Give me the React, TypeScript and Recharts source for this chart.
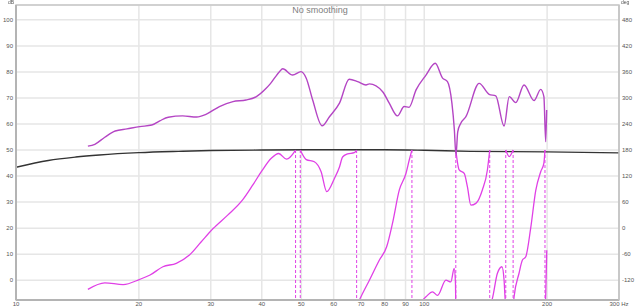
import { LineChart, Line, XAxis, YAxis, CartesianGrid, ReferenceArea } from "recharts"

// axis ticks
const freqTicks = [10, 20, 30, 40, 50, 60, 70, 80, 90, 100, 200, 300]
const dbTicks = [0, 10, 20, 30, 40, 50, 60, 70, 80, 90, 100]
const degTicks = [-120, -60, 0, 60, 120, 180, 240, 300, 360, 420, 480]

// black trace (dB)
const targetCurve: [number, number][] = [
  [10, 43.4], [12, 46.0], [14, 47.3], [16, 48.1], [20, 49.0], [25, 49.5], [30, 49.8],
  [40, 50.0], [60, 50.1], [80, 50.1], [100, 49.9], [130, 49.5], [200, 49.3], [300, 48.9],
]

// SPL trace (dB)
const splCurve: [number, number][] = [
  [15.0, 51.5], [15.6, 52.2], [16.5, 54.9], [17.5, 57.3], [18.7, 58.1], [20.1, 59.0],
  [21.5, 59.6], [22.5, 61.2], [23.6, 62.6], [25.6, 63.1], [27.7, 62.7], [29.2, 63.7],
  [31.5, 66.7], [34.0, 68.6], [36.6, 69.2], [38.8, 70.5], [41.0, 73.7], [42.0, 75.5],
  [44.2, 80.1], [45.0, 81.2], [47.6, 78.8], [49.9, 80.1], [51.4, 77.6], [53.3, 69.2],
  [56.2, 59.3], [58.6, 62.8], [62.0, 68.0], [65.5, 77.2], [68.7, 76.3], [72.0, 75.0],
  [73.4, 75.4], [79.1, 72.4], [82.1, 68.0], [86.0, 63.1], [89.3, 66.7], [91.8, 66.4],
  [95.5, 73.1], [101, 78.8], [106.4, 83.3], [110.9, 77.6], [114, 76.3], [116.9, 68],
  [118.5, 58], [119.6, 48], [120.8, 57], [122.9, 60.3], [126.5, 62.8], [136.3, 75.6],
  [144.2, 71.4], [149.7, 70.8], [156.9, 59.2], [161.5, 70.5], [167.6, 68.2], [175.6, 75.0],
  [185.8, 69.0], [192.9, 73.3], [196.4, 70.5], [198.4, 53.2], [199.5, 65.4],
]

// phase trace (deg), one list per unwrapped piece
const phaseSeg1: [number, number][] = [
  [15.0, -141], [16.5, -126], [18.3, -130], [20.1, -118], [21.3, -108], [22.9, -89],
  [24.7, -81], [26.6, -62], [28.4, -32], [30.4, -1], [33.0, 30], [35.9, 65], [38.0, 99],
  [39.9, 130], [42.2, 161], [44.0, 172], [46.0, 159], [48.4, 180],
]
const phaseSeg2: [number, number][] = [
  [49.7, 180], [51.4, 158], [53.8, 153], [55.9, 130], [57.7, 84], [60.3, 115], [62.0, 141],
  [63.1, 164], [64.9, 171], [67.4, 174], [68.3, 180],
]
const phaseSeg3: [number, number][] = [
  [68.3, -180], [70.0, -158], [73.4, -120], [77.6, -74], [80.9, -43], [83.6, 11],
  [86.9, 88], [90.2, 126], [91.9, 157], [93.3, 180],
]
const phaseSeg4: [number, number][] = [
  [93.3, -180], [98, -170], [101, -158], [104.8, -147], [107.8, -155], [113, -120],
  [116.2, -124], [118.4, -93], [119.3, -130], [119.5, -185],
]
const phaseSeg5: [number, number][] = [
  [119.5, 180], [121.8, 134], [125.3, 126], [127.6, 95], [130.1, 53], [133.8, 57],
  [138.8, 88], [142.8, 134], [144.7, 180],
]
const phaseSeg6: [number, number][] = [
  [144.7, -180], [146.9, -162], [151.1, -104], [155, -89], [156.9, -120], [157.7, -158], [158.4, -180],
]
const phaseSeg7: [number, number][] = [
  [158.4, 180], [161.5, 165], [165.1, 180],
]
const phaseSeg8: [number, number][] = [
  [165.1, -180], [166, -158], [170.7, -104], [173.9, -74], [177.3, -66], [182.3, 0],
  [187.6, 87], [192.9, 130], [196.4, 150], [197.6, 180],
]
const phaseSeg9: [number, number][] = [
  [197.6, -180], [198.5, -150], [199.6, -51],
]

// frequencies where the phase wraps
const wrapFreqs = [48.4, 49.7, 68.3, 93.3, 119.5, 144.7, 158.4, 165.1, 197.6]

const phaseSegments = [phaseSeg1, phaseSeg2, phaseSeg3, phaseSeg4, phaseSeg5, phaseSeg6, phaseSeg7, phaseSeg8, phaseSeg9]

const targetData = targetCurve.map(([f, v]) => ({ f, v }))
const splData = splCurve.map(([f, v]) => ({ f, v }))
const phaseData = phaseSegments.flatMap((seg) => [
  ...seg.map(([f, p]) => ({ f, p })),
  { f: seg[seg.length - 1][0], p: null },
])
const wrapData = wrapFreqs.flatMap((f) => [
  { f, w: 180 },
  { f, w: -180 },
  { f, w: null },
])

const DB_DOMAIN: [number, number] = [-7.6, 105.7]
const DEG_DOMAIN: [number, number] = [-165.6, 514.2]

const tickStyle = { fontSize: 6, fill: "#555", fontFamily: "Liberation Sans, Arial, sans-serif" }

export default function App() {
  return (
    <div style={{ position: "fixed", left: 0, top: 0, width: 640, height: 308, background: "#fff", fontFamily: "Liberation Sans, Arial, sans-serif" }}>
      <LineChart width={640} height={308} margin={{ top: 5, right: 0, bottom: 0, left: 0 }}>
        <CartesianGrid xAxisId="x" yAxisId="left" stroke="#e6e6e6" strokeWidth={1.5} />
        <XAxis
          xAxisId="x"
          dataKey="f"
          type="number"
          scale="log"
          domain={[10, 300]}
          allowDataOverflow
          ticks={freqTicks}
          interval={0}
          height={8}
          tickSize={0}
          tickMargin={2}
          tickLine={false}
          axisLine={{ stroke: "#b4b4b4", strokeWidth: 2 }}
          tick={tickStyle}
          tickFormatter={(v: number) => (v === 300 ? "300 Hz" : String(v))}
        />
        <YAxis
          yAxisId="left"
          type="number"
          domain={DB_DOMAIN}
          allowDataOverflow
          ticks={dbTicks}
          interval={0}
          width={16}
          tickSize={0}
          tickMargin={3}
          tickLine={false}
          axisLine={{ stroke: "#b4b4b4", strokeWidth: 2 }}
          tick={tickStyle}
        />
        <YAxis
          yAxisId="right"
          orientation="right"
          type="number"
          domain={DEG_DOMAIN}
          allowDataOverflow
          ticks={degTicks}
          interval={0}
          width={21}
          tickSize={0}
          tickMargin={3}
          tickLine={false}
          axisLine={{ stroke: "#c4c4c4", strokeWidth: 1.5 }}
          tick={tickStyle}
        />
        <ReferenceArea
          xAxisId="x"
          yAxisId="left"
          x1={10}
          x2={300}
          y1={DB_DOMAIN[0]}
          y2={DB_DOMAIN[1]}
          fill="none"
          stroke="#c8c8c8"
          strokeWidth={1.5}
        />
        <Line
          xAxisId="x"
          yAxisId="left"
          data={targetData}
          dataKey="v"
          type="monotone"
          stroke="#333"
          strokeWidth={1.4}
          dot={false}
          activeDot={false}
          isAnimationActive={false}
        />
        <Line
          xAxisId="x"
          yAxisId="right"
          data={wrapData}
          dataKey="w"
          type="linear"
          stroke="#e040e6"
          strokeWidth={1}
          strokeDasharray="3 2"
          dot={false}
          activeDot={false}
          isAnimationActive={false}
        />
        <Line
          xAxisId="x"
          yAxisId="right"
          data={phaseData}
          dataKey="p"
          type="monotone"
          stroke="#e040e6"
          strokeWidth={1.3}
          dot={false}
          activeDot={false}
          isAnimationActive={false}
        />
        <Line
          xAxisId="x"
          yAxisId="left"
          data={splData}
          dataKey="v"
          type="monotone"
          stroke="#b445c4"
          strokeWidth={1.4}
          dot={false}
          activeDot={false}
          isAnimationActive={false}
        />
      </LineChart>
      <div style={{ position: "absolute", left: 0, top: 0, width: 640, textAlign: "center", fontSize: 9, lineHeight: "10px", top: 5, color: "#808080" } as React.CSSProperties}>
        No smoothing
      </div>
      <div style={{ position: "absolute", left: 8, top: -1, fontSize: 5, lineHeight: "6px", color: "#555" }}>dB</div>
      <div style={{ position: "absolute", left: 621, top: -1, fontSize: 5, lineHeight: "6px", color: "#555" }}>deg</div>
    </div>
  )
}
